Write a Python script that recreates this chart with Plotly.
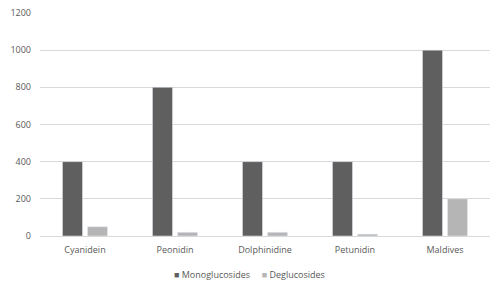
import plotly.graph_objects as go

categories = ["Cyanidein", "Peonidin", "Dolphinidine", "Petunidin", "Maldives"]
mono = [400, 800, 400, 400, 1000]
deglu = [50, 20, 20, 10, 200]
yticks = [0, 200, 400, 600, 800, 1000, 1200]
series_names = ["Monoglucosides", "Deglucosides"]
colors = ["#5f5f5f", "#b5b5b5"]

fig = go.Figure()
fig.add_trace(go.Bar(x=categories, y=mono, name=series_names[0], marker_color=colors[0]))
fig.add_trace(go.Bar(x=categories, y=deglu, name=series_names[1], marker_color=colors[1]))

legend_text = "     ".join(
    f"<span style='color:{c}'>■</span> {n}" for n, c in zip(series_names, colors)
)
fig.add_annotation(text=legend_text, xref="paper", yref="paper", x=0.466, y=-0.135,
                   xanchor="center", yanchor="top", showarrow=False,
                   font=dict(size=9, color="#595959"))

fig.update_layout(
    width=503, height=292,
    margin=dict(l=40, r=13, t=13, b=56, autoexpand=False),
    paper_bgcolor="white", plot_bgcolor="white",
    barmode="group", bargap=0.444, bargroupgap=0.2,
    font=dict(family="Open Sans", size=9, color="#595959"),
    showlegend=False,
)
fig.update_yaxes(range=[0, 1200], tickvals=yticks, showgrid=True, gridcolor="#d9d9d9",
                 zeroline=False, showline=False, ticks="", automargin=False,
                 ticklabelstandoff=8)
fig.update_xaxes(showline=True, linecolor="#d9d9d9", showgrid=False, ticks="",
                 automargin=False, ticklabelstandoff=5)
fig.write_html("out.html", config={"displayModeBar": False},
               post_script="document.body.style.margin='0';")
